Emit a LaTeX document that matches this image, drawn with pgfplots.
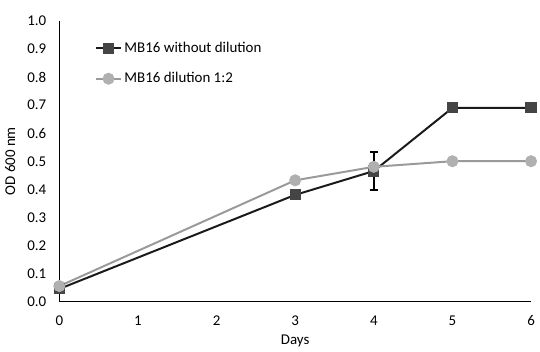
\documentclass[border=0pt]{standalone}
\usepackage{fontspec}
\setmainfont{Carlito}
\usepackage{pgfplots}
\pgfplotsset{compat=1.18}
\definecolor{dk}{HTML}{1A1A1A}
\definecolor{dkm}{HTML}{454545}
\definecolor{gr}{HTML}{9A9A9A}
\definecolor{grm}{HTML}{B0B0B0}
\begin{document}
\fontsize{15}{17}\selectfont
\begin{tikzpicture}
\begin{axis}[
  scale only axis,
  width=474pt, height=282pt,
  xmin=0, xmax=6, ymin=0, ymax=1,
  axis lines*=left,
  axis line style={line width=1.4pt, -},
  xtick={0,1,2,3,4,5,6},
  ytick={0,0.1,0.2,0.3,0.4,0.5,0.6,0.7,0.8,0.9,1.0},
  major tick length=0pt,
  yticklabel style={/pgf/number format/fixed, /pgf/number format/fixed zerofill, /pgf/number format/precision=1},
  /pgf/number format/assume math mode=true,
  tick label style={font=\fontsize{15}{17}\selectfont},
  xticklabel style={yshift=-9pt},
  yticklabel style={xshift=-8pt},
  xlabel={Days}, ylabel={OD 600 nm},
  xlabel style={yshift=1pt, font=\fontsize{15}{17}\selectfont},
  ylabel style={yshift=2pt, font=\fontsize{15}{17}\selectfont},
  clip=false,
  legend style={at={(rel axis cs:0.068,0.94)}, anchor=north west, draw=none, fill=none,
    font=\fontsize{15}{17}\selectfont, row sep=14pt},
  legend cell align=left,
  legend image code/.code={\draw[#1] (0pt,0pt) -- (26pt,0pt); \draw[#1, only marks] plot coordinates {(13pt,0pt)};},
]
\path (rel axis cs:0,1) -- ++(0,21pt);
\addplot[dk, line width=2pt, mark=square*, mark size=4.6pt, mark options={fill=dkm, draw=dkm, solid},
  error bars/.cd, y dir=both, y explicit, error bar style={line width=1.4pt, black}, error mark options={rotate=90, mark size=4pt, line width=1.4pt, black}]
  coordinates {(0,0.045) +- (0,0) (3,0.38) +- (0,0) (4,0.465) +- (0,0.068) (5,0.69) +- (0,0) (6,0.69) +- (0,0)};
\addlegendentry{MB16 without dilution}
\addplot[gr, line width=2pt, mark=*, mark size=5pt, mark options={fill=grm, draw=grm, solid}]
  coordinates {(0,0.055) (3,0.432) (4,0.48) (5,0.50) (6,0.50)};
\addlegendentry{MB16 dilution 1:2}
\end{axis}
\end{tikzpicture}
\end{document}
